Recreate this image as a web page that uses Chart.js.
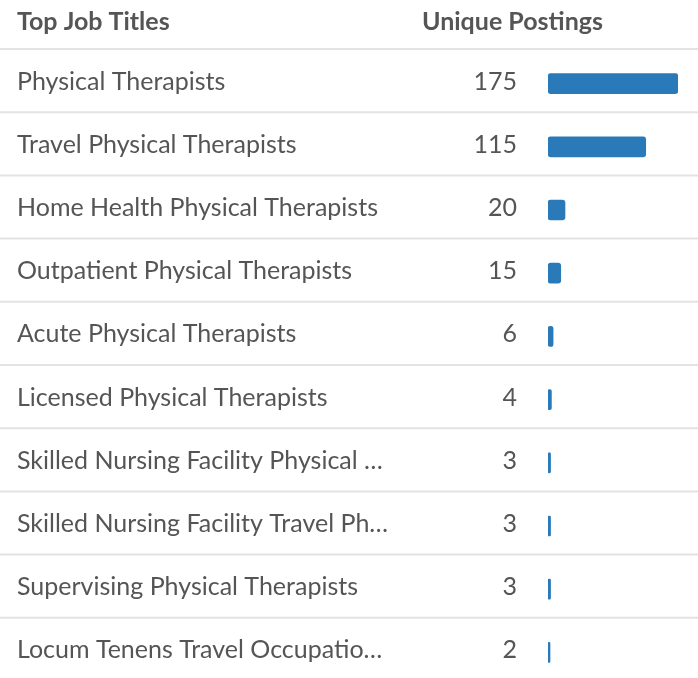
<!DOCTYPE html>
<html>
<head>
<meta charset="utf-8">
<script src="https://cdn.jsdelivr.net/npm/chart.js@4.4.1/dist/chart.umd.min.js"></script>
<style>
  html, body { margin: 0; padding: 0; overflow: hidden; background: #fff; }
  #wrap { position: relative; width: 698px; height: 699px; }
</style>
</head>
<body>
<div id="wrap"><canvas id="jobs-chart"></canvas></div>
<script>
const titles = [
  "Physical Therapists",
  "Travel Physical Therapists",
  "Home Health Physical Therapists",
  "Outpatient Physical Therapists",
  "Acute Physical Therapists",
  "Licensed Physical Therapists",
  "Skilled Nursing Facility Physical \u2026",
  "Skilled Nursing Facility Travel Ph\u2026",
  "Supervising Physical Therapists",
  "Locum Tenens Travel Occupatio\u2026",
];

const postings = [175, 115, 20, 15, 6, 4, 3, 3, 3, 2];

const headers = ["Top Job Titles", "Unique Postings"];

// bar column is capped: longest bar fills the column
const barMax = 153;

const textColor = "#555555";
const barColor = "#2a7ab9";
const lineColor = "#e3e3e3";

const tablePlugin = {
  id: "tableBits",
  beforeDatasetsDraw(chart) {
    const { ctx, scales: { y }, width } = chart;
    ctx.save();
    ctx.strokeStyle = lineColor;
    ctx.lineWidth = 2;
    for (let i = 0; i <= titles.length; i++) {
      const yy = y.getPixelForValue(i - 0.5) - 3;
      ctx.beginPath();
      ctx.moveTo(0, yy);
      ctx.lineTo(width, yy);
      ctx.stroke();
    }
    ctx.restore();
  },
  afterDatasetsDraw(chart) {
    const { ctx, scales: { y } } = chart;
    ctx.save();
    ctx.fillStyle = textColor;
    ctx.font = "25px Lato";
    ctx.textAlign = "right";
    ctx.textBaseline = "middle";
    postings.forEach((v, i) => {
      ctx.fillText(String(v), 517, y.getPixelForValue(i) - 2);
    });
    ctx.font = "bold 25px Lato";
    ctx.textAlign = "left";
    ctx.fillText(headers[0], 17, 22);
    ctx.fillText(headers[1], 422, 22);
    ctx.restore();
  },
};

const chart = new Chart(document.getElementById("jobs-chart"), {
  type: "bar",
  data: {
    labels: titles,
    datasets: [
      {
        data: postings.map((v) => Math.min(v, barMax)),
        backgroundColor: barColor,
        borderRadius: 3,
        borderSkipped: false,
        barThickness: 20,
        minBarLength: 2,
      },
    ],
  },
  options: {
    responsive: true,
    maintainAspectRatio: false,
    animation: false,
    indexAxis: "y",
    layout: {
      padding: { left: 17, right: 20, top: 52, bottom: 0 },
    },
    plugins: {
      legend: { display: false },
      tooltip: { enabled: false },
    },
    scales: {
      x: {
        display: false,
        min: 0,
        max: barMax,
      },
      y: {
        grid: { display: false },
        border: { display: false },
        afterFit(scale) {
          scale.width = 548 - 17;
        },
        ticks: {
          crossAlign: "far",
          color: textColor,
          padding: 0,
          labelOffset: -2,
          font: { size: 25, family: "Lato" },
        },
      },
    },
  },
  plugins: [tablePlugin],
});
</script>
</body>
</html>
